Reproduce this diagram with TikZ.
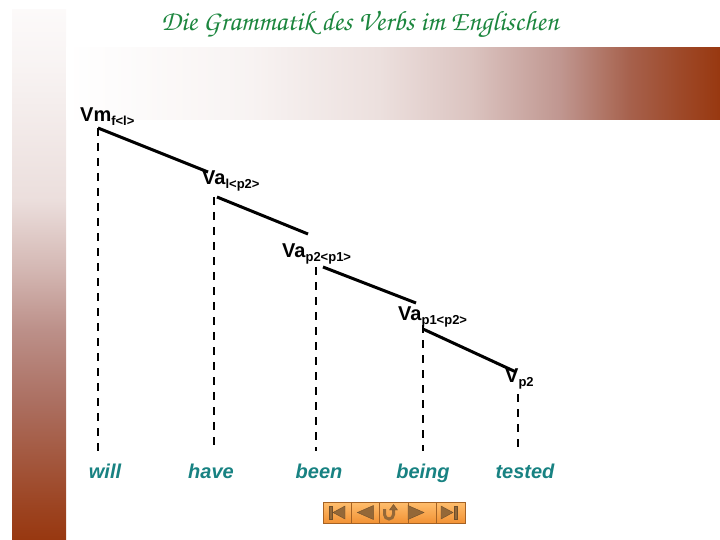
\documentclass[tikz,border=0pt]{standalone}
\usepackage[T1]{fontenc}
\usepackage{fontspec}
\setmainfont{Liberation Sans}
\usetikzlibrary{calc}

\definecolor{rust}{RGB}{152,56,16}
\definecolor{mauve}{RGB}{176,124,116}
\definecolor{wordteal}{RGB}{24,130,130}
\definecolor{titlegreen}{RGB}{28,134,62}
\definecolor{navtop}{RGB}{255,190,110}
\definecolor{navbot}{RGB}{242,146,52}
\definecolor{navline}{RGB}{165,98,36}
\definecolor{navicon}{RGB}{148,104,56}

\pgfdeclareverticalshading{barshade}{100bp}{color(0bp)=(rust); color(25bp)=(rust);
  color(27.8bp)=(rust!85!mauve); color(32.5bp)=(rust!55!mauve); color(38.2bp)=(rust!18!mauve);
  color(44.8bp)=(mauve!85!white); color(50.5bp)=(mauve!55!white); color(57.1bp)=(mauve!25!white);
  color(70.3bp)=(mauve!8!white); color(75bp)=(mauve!4!white); color(100bp)=(mauve!4!white)}
\pgfdeclarehorizontalshading{bandshade}{100bp}{color(0bp)=(white); color(25bp)=(white);
  color(39bp)=(mauve!9!white); color(49bp)=(mauve!24!white); color(55.9bp)=(mauve!45!white);
  color(62.8bp)=(mauve!80!white); color(68.1bp)=(rust!40!mauve); color(71.9bp)=(rust!75!mauve);
  color(75bp)=(rust); color(100bp)=(rust)}

\newcommand\grammarfont{\fontencoding{T1}\fontfamily{pzc}\fontseries{mb}\fontshape{it}\fontsize{28}{32}\selectfont}
\newcommand\lsub[1]{\raisebox{-4pt}{\fontsize{13}{13}\selectfont #1}}

\begin{document}
\begin{tikzpicture}[x=1pt,y=-1pt,
  lbl/.style={anchor=base west,inner sep=0pt,font=\bfseries\fontsize{20}{24}\selectfont},
  word/.style={anchor=base,inner sep=0pt,text=wordteal,font=\bfseries\itshape\fontsize{20}{24}\selectfont},
  tie/.style={line width=3pt},
  drop/.style={line width=2.5pt,dash pattern=on 8pt off 7pt},
  navcell/.style={draw=navline,line width=1pt,top color=navtop,bottom color=navbot},
  navsign/.style={fill=navicon,draw=navicon!75!black,line width=.4pt}]
\useasboundingbox (0,0) rectangle (720,540);
\shade[shading=barshade] (12,10) rectangle (66,540);
\shade[shading=bandshade] (66,48) rectangle (720,120);

\node (title) [text=titlegreen,font=\grammarfont] at (360,25) {Die Grammatik des Verbs im Englischen};

\node (vm) [lbl] at (80,122) {Vm\lsub{f<l>}};
\node (va1) [lbl] at (202,185) {Va\lsub{l<p2>}};
\node (va2) [lbl] at (282,257) {Va\lsub{p2<p1>}};
\node (va3) [lbl] at (398,320) {Va\lsub{p1<p2>}};
\node (vp) [lbl] at (505,382) {V\lsub{p2}};

\node (will) [word] at (105,478) {will};
\node (have) [word] at (211,478) {have};
\node (been) [word] at (319,478) {been};
\node (being) [word] at (423,478) {being};
\node (tested) [word] at (525,478) {tested};

\coordinate (vm-f) at ([shift={(18,6)}]vm.base west);
\coordinate (va1-f) at ([shift={(12,12)}]va1.base west);
\coordinate (va2-f) at ([shift={(34,10)}]va2.base west);
\coordinate (va3-f) at ([shift={(25,5)}]va3.base west);
\coordinate (vp-f) at ([shift={(13,12)}]vp.base west);

\draw[tie] (vm-f) -- ([shift={(6,-13)}]va1.base west);
\draw[tie] ([shift={(3,0)}]va1-f) -- ([shift={(26,-23)}]va2.base west);
\draw[tie] ([shift={(7,0)}]va2-f) -- ([shift={(18,-17)}]va3.base west);
\draw[tie] ([shift={(0,4)}]va3-f) -- ([shift={(11,-10)}]vp.base west);

\foreach \f/\w in {vm-f/will,va1-f/have,va2-f/been,va3-f/being,vp-f/tested}
  \draw[drop] (\f) -- ($(\f |- \w.north)+(0,-12)$);

\foreach \i in {0,...,4}
  \draw[navcell] (323+28.4*\i,502) rectangle ++(28.4,21);
\fill[navsign] (329,506) rectangle (332,519);
\fill[navsign] (333,512.5) -- (345,506) -- (345,519) -- cycle;
\fill[navsign] (357.4,512.5) -- (373.4,505.5) -- (373.4,519.5) -- cycle;
\draw[navicon,line width=3pt] (384.5,509) -- (384.5,514.5) arc[start angle=180,end angle=0,radius=4.5] -- (393.5,510);
\fill[navsign] (389.5,510) -- (397.5,510) -- (393.5,504.5) -- cycle;
\fill[navsign] (408,505.5) -- (408,519.5) -- (424,512.5) -- cycle;
\fill[navsign] (441,506) -- (441,519) -- (453,512.5) -- cycle;
\fill[navsign] (454,506) rectangle (457,519);
\end{tikzpicture}
\end{document}
